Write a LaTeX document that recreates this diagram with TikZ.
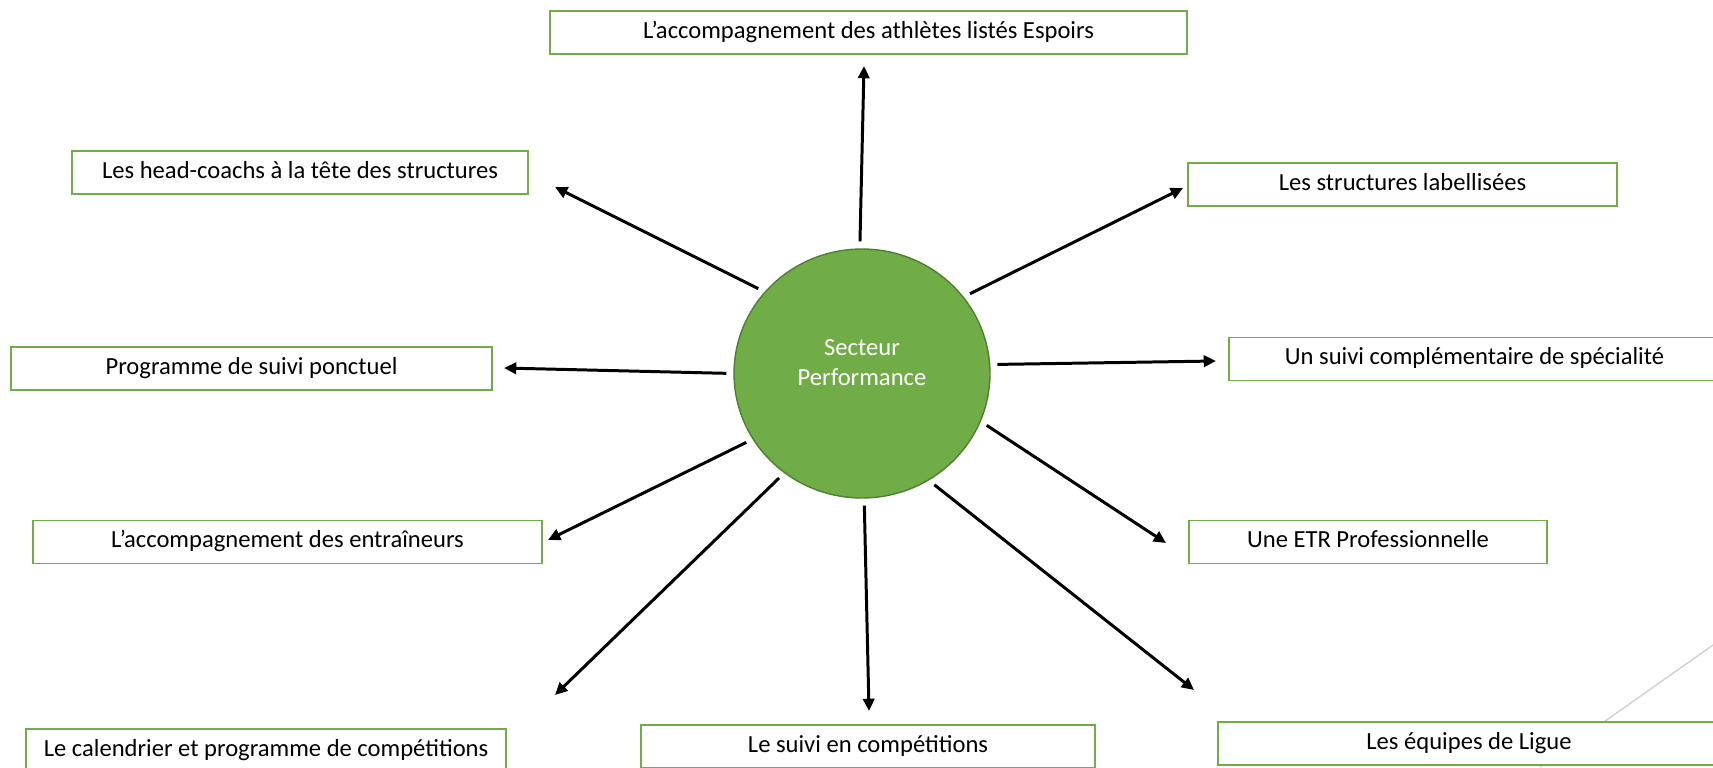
\documentclass[tikz,border=0pt]{standalone}
\usepackage{fontspec}
\setmainfont{Carlito}
\usetikzlibrary{arrows.meta}
\usetikzlibrary{shapes.geometric}
\definecolor{leafgreen}{HTML}{70AD47}
\definecolor{darkleaf}{HTML}{507E32}
\tikzset{box/.style = {draw = leafgreen, line width = 1.1pt, fill = white, inner sep = 0, minimum height = 0.86cm, text height = 0.85em, text depth = 0.2em, font = \fontsize{14}{17}\selectfont},
  hub/.style = {ellipse, draw = darkleaf, line width = 0.8pt, fill = leafgreen, inner sep = 0, minimum width = 5.12cm, minimum height = 4.98cm},
  hubtext/.style = {text = white, align = center, inner sep = 0, font = \fontsize{14}{17}\selectfont},
  arr/.style = {line width = 1.7pt, -{Triangle[length = 7pt, width = 6.5pt]}, shorten < = 4pt}}

\begin{document}
\begin{tikzpicture}[x = 0.02cm, y = -0.02cm]
      \clip (0, 0) rectangle (1713, 767);
      \fill [white] (0, 0) rectangle (1713, 767);

      \draw [black!18, line width = 0.8pt] (1713, 645) -- (1540, 767);

      \node [hub] (sp) at (862, 373.5) {};
      \node [hubtext] (sp-label) at (862, 363) {Secteur\\Performance};

      \node [box, minimum width = 12.74cm] (espoirs) at (868.5, 32.5) {L’accompagnement des athlètes listés Espoirs};
      \node [box, minimum width = 9.12cm] (headcoach) at (300, 172.5) {Les head-coachs à la tête des structures};
      \node [box, minimum width = 8.58cm] (labels) at (1402.5, 184.5) {Les structures labellisées};
      \node [box, minimum width = 9.62cm] (ponctuel) at (251.5, 368.5) {Programme de suivi ponctuel};
      \node [box, minimum width = 9.82cm] (specialite) at (1474.5, 359) {Un suivi complémentaire de spécialité};
      \node [box, minimum width = 10.18cm] (entraineurs) at (287.5, 542) {L’accompagnement des entraîneurs};
      \node [box, minimum width = 7.16cm] (etr) at (1368, 542) {Une ETR Professionnelle};
      \node [box, minimum width = 9.6cm] (calendrier) at (266, 750.5) {Le calendrier et programme de compétitions};
      \node [box, minimum width = 9.08cm] (suivicomp) at (868, 746.5) {Le suivi en compétitions};
      \node [box, minimum width = 10.04cm] (equipes) at (1469, 743.5) {Les équipes de Ligue};

      % arrow tips, short of the boxes
      \coordinate (espoirs-tip) at (864, 66);
      \coordinate (headcoach-tip) at (555, 187);
      \coordinate (labels-tip) at (1183, 188);
      \coordinate (ponctuel-tip) at (504, 368);
      \coordinate (specialite-tip) at (1216, 361);
      \coordinate (entraineurs-tip) at (548, 540);
      \coordinate (etr-tip) at (1166, 543);
      \coordinate (calendrier-tip) at (555, 695);
      \coordinate (suivicomp-tip) at (869, 711);
      \coordinate (equipes-tip) at (1194, 690);

      \draw [arr] (sp.91) -- (espoirs-tip);
      \draw [arr] (sp.140) -- (headcoach-tip);
      \draw [arr] (sp.37) -- (labels-tip);
      \draw [arr] (sp.180) -- (ponctuel-tip);
      \draw [arr] (sp.4) -- (specialite-tip);
      \draw [arr] (sp.211) -- (entraineurs-tip);
      \draw [arr] (sp.338) -- (etr-tip);
      \draw [arr] (sp.232) -- (calendrier-tip);
      \draw [arr] (sp.271) -- (suivicomp-tip);
      \draw [arr] (sp.302) -- (equipes-tip);
    \end{tikzpicture}
\end{document}
